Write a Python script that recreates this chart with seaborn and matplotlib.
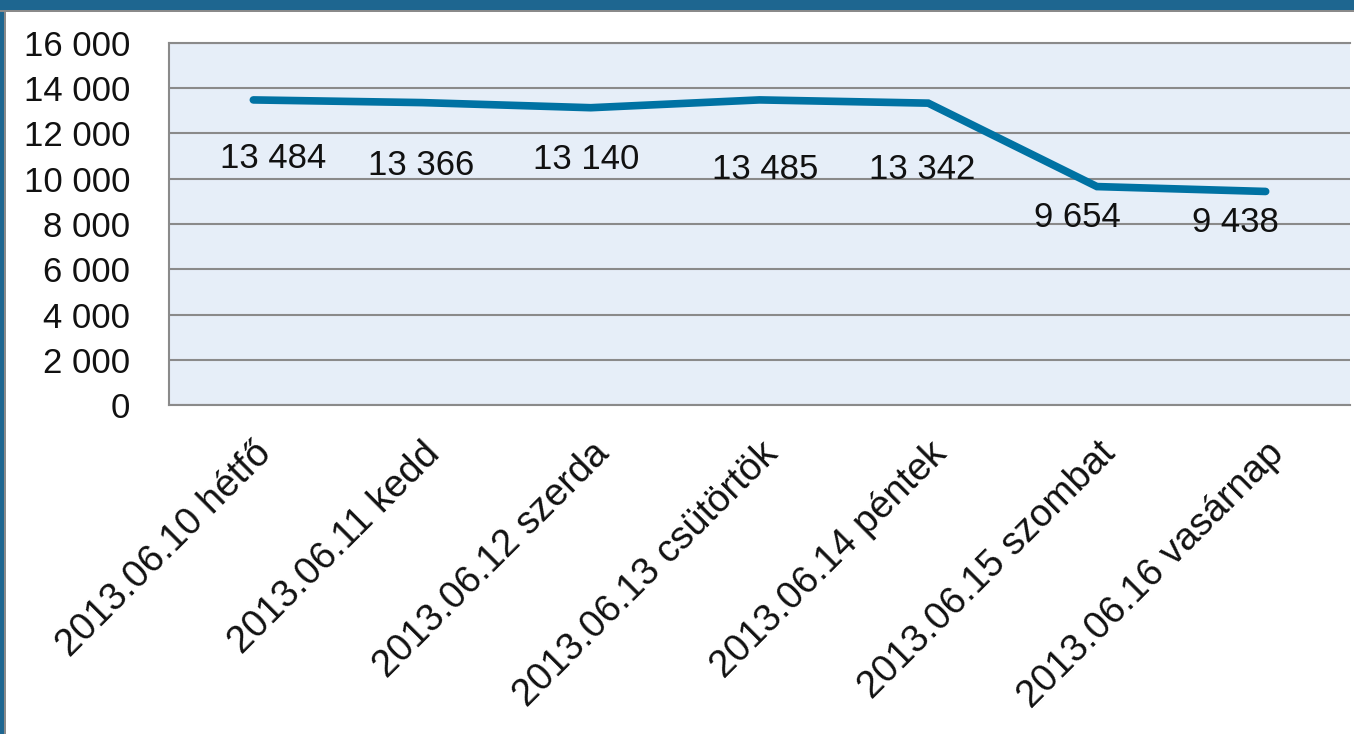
import matplotlib
matplotlib.use("Agg")
import matplotlib.pyplot as plt
from matplotlib.patches import Rectangle
import seaborn as sns
import pandas as pd

days = ["2013.06.10 hétfő", "2013.06.11 kedd", "2013.06.12 szerda",
        "2013.06.13 csütörtök", "2013.06.14 péntek", "2013.06.15 szombat",
        "2013.06.16 vasárnap"]
values = [13484, 13366, 13140, 13485, 13342, 9654, 9438]
y_ticks = [0, 2000, 4000, 6000, 8000, 10000, 12000, 14000, 16000]

# label offsets (points) relative to each marker, as placed in the original
label_dx = [14, -1, -3, 4, -4, -14, -22]
label_dy = [-42, -45, -37, -50, -48, -22, -22]

sns.set_theme(style="white")
plt.rcParams['font.family'] = ['Liberation Sans', 'DejaVu Sans']

df = pd.DataFrame({"nap": days, "db": values})

fig = plt.figure(figsize=(13.54, 7.34), dpi=100)
fig.patch.set_facecolor("white")
ax = fig.add_axes([169 / 1354, 1 - 405 / 734, 1181 / 1354, 362 / 734])
ax.set_facecolor("#E6EEF8")

sns.lineplot(data=df, x="nap", y="db", ax=ax, sort=False, color="#0072A3",
             linewidth=5.5, solid_capstyle="round", solid_joinstyle="miter")

ax.set_xlim(-0.5, len(days) - 0.5)
ax.set_ylim(0, 16000)
ax.set_yticks(y_ticks)
ax.set_yticklabels([f"{v:,}".replace(",", " ") for v in y_ticks], fontsize=25)
ax.yaxis.grid(True, color="#8A8A8A", linewidth=1.5)
ax.set_axisbelow(True)
ax.tick_params(axis="y", length=0, pad=28, labelcolor="#111111")
ax.tick_params(axis="x", length=0, pad=22)
ax.set_xticks(range(len(days)))
ax.set_xticklabels(days, rotation=45, ha="right", va="top",
                   rotation_mode="anchor", fontsize=27.5, color="#111111")
ax.set_xlabel("")
ax.set_ylabel("")

for side in ["left", "top", "bottom"]:
    ax.spines[side].set_color("#8A8A8A")
    ax.spines[side].set_linewidth(1.5)
ax.spines["right"].set_visible(False)

for i, v in enumerate(values):
    ax.annotate(f"{v:,}".replace(",", " "), (i, v),
                xytext=(label_dx[i], label_dy[i]), textcoords="offset points",
                ha="center", va="center", fontsize=25, color="#111111")

# blue slide frame around the chart
fig.patches.append(Rectangle((0, 1 - 10 / 734), 1, 10 / 734, transform=fig.transFigure,
                             facecolor="#1E6690", edgecolor="none", zorder=0))
fig.patches.append(Rectangle((0, 0), 4 / 1354, 1, transform=fig.transFigure,
                             facecolor="#1E6690", edgecolor="none", zorder=0))
fig.patches.append(Rectangle((4 / 1354, 0), 1.5 / 1354, 1 - 10 / 734, transform=fig.transFigure,
                             facecolor="#8A8A8A", edgecolor="none", zorder=0))
fig.patches.append(Rectangle((0, 1 - 11.5 / 734), 1, 1.5 / 734, transform=fig.transFigure,
                             facecolor="#8A8A8A", edgecolor="none", zorder=0))

fig.savefig("out.png", dpi=100)
plt.close(fig)
